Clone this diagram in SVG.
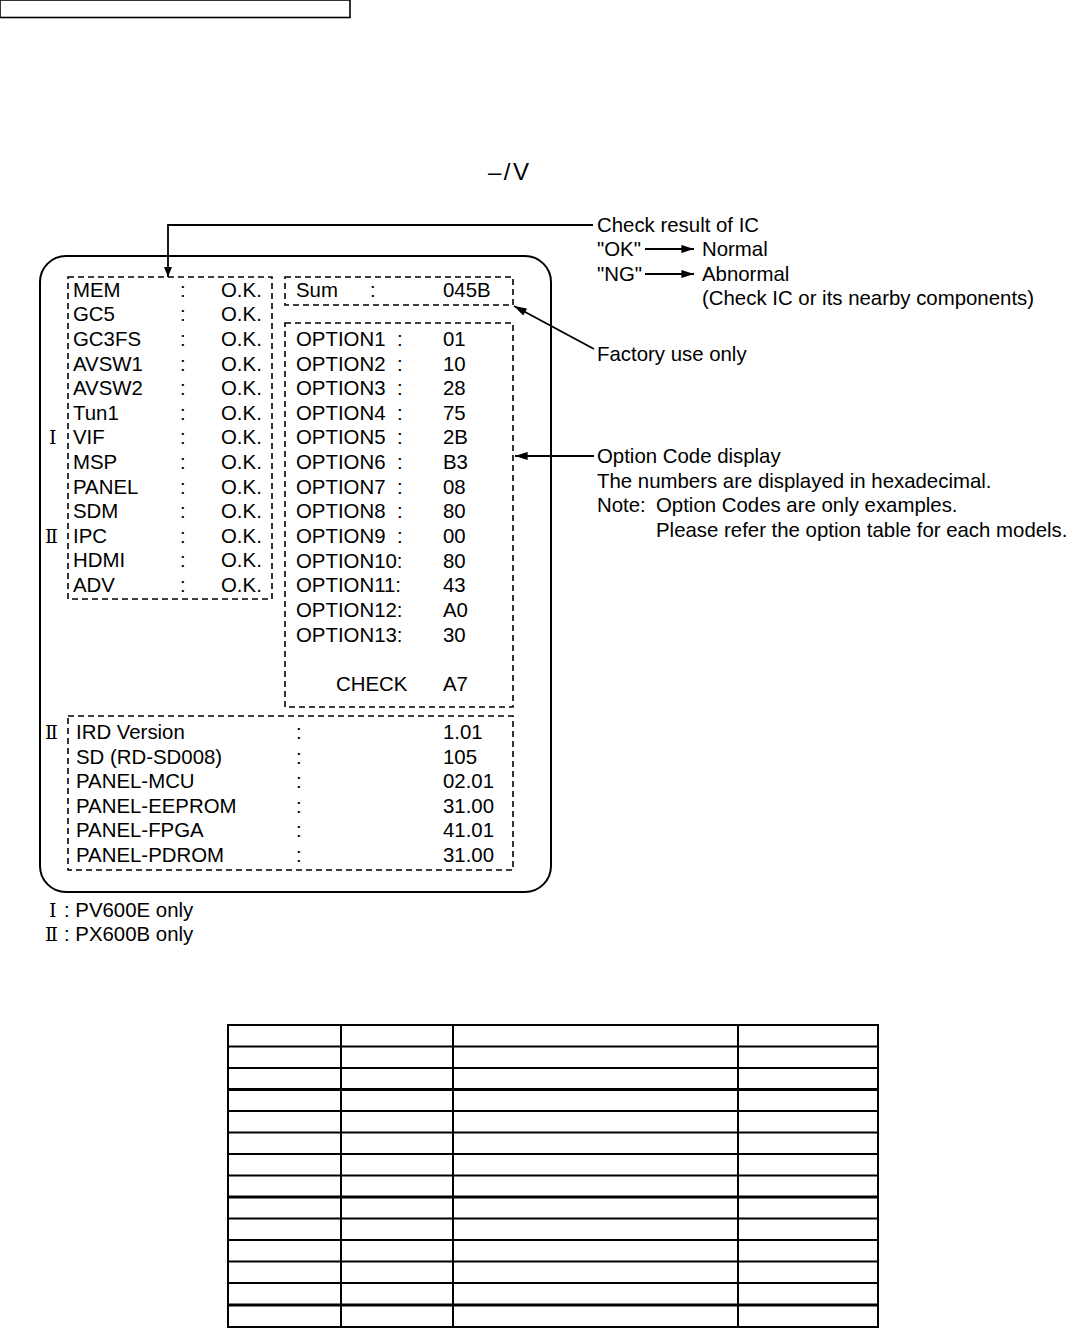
<svg xmlns="http://www.w3.org/2000/svg" width="1067" height="1328" viewBox="0 0 1067 1328">
<style>
text{font-family:"Liberation Sans",Arial,sans-serif;font-size:20.4px;fill:#000}
.rn{font-family:"DejaVu Serif","Liberation Serif","Noto Sans CJK JP",serif;font-size:19px}
.sym{font-family:"Liberation Sans",Arial,sans-serif;font-size:24px;letter-spacing:2.5px}
.dash{fill:none;stroke:#000;stroke-width:1.6;stroke-dasharray:6,4}
.ln{fill:none;stroke:#000;stroke-width:1.8}
.tb{fill:none;stroke:#000;stroke-width:2}
.tbk{fill:none;stroke:#000;stroke-width:3.2}
</style>
<defs>
<marker id="ah" viewBox="0 0 10 10" refX="10" refY="5" markerWidth="10" markerHeight="10" markerUnits="userSpaceOnUse" orient="auto">
<path d="M0,1 L10,5 L0,9 Z" fill="#000"/>
</marker>
<marker id="ahs" viewBox="0 0 14 10" refX="14" refY="5" markerWidth="14" markerHeight="9" markerUnits="userSpaceOnUse" orient="auto">
<path d="M0,0.5 L14,5 L0,9.5 Z" fill="#000"/>
</marker>
</defs>
<rect x="0" y="0" width="350" height="17.5" fill="none" stroke="#000" stroke-width="1.6"/>
<text class="sym" x="488" y="180">–/V</text>

<g id="screen">
<rect x="40" y="256" width="511" height="636" rx="26" ry="26" fill="none" stroke="#000" stroke-width="2"/>
</g>

<g id="ic-check">
<rect class="dash" x="68" y="277" width="204" height="322"/>
<g>
<text x="73" y="297">MEM</text><text x="180" y="297">:</text><text x="221" y="297">O.K.</text>
<text x="73" y="321">GC5</text><text x="180" y="321">:</text><text x="221" y="321">O.K.</text>
<text x="73" y="346">GC3FS</text><text x="180" y="346">:</text><text x="221" y="346">O.K.</text>
<text x="73" y="371">AVSW1</text><text x="180" y="371">:</text><text x="221" y="371">O.K.</text>
<text x="73" y="395">AVSW2</text><text x="180" y="395">:</text><text x="221" y="395">O.K.</text>
<text x="73" y="420">Tun1</text><text x="180" y="420">:</text><text x="221" y="420">O.K.</text>
<text x="73" y="444">VIF</text><text x="180" y="444">:</text><text x="221" y="444">O.K.</text>
<text x="73" y="469">MSP</text><text x="180" y="469">:</text><text x="221" y="469">O.K.</text>
<text x="73" y="494">PANEL</text><text x="180" y="494">:</text><text x="221" y="494">O.K.</text>
<text x="73" y="518">SDM</text><text x="180" y="518">:</text><text x="221" y="518">O.K.</text>
<text x="73" y="543">IPC</text><text x="180" y="543">:</text><text x="221" y="543">O.K.</text>
<text x="73" y="567">HDMI</text><text x="180" y="567">:</text><text x="221" y="567">O.K.</text>
<text x="73" y="592">ADV</text><text x="180" y="592">:</text><text x="221" y="592">O.K.</text>
</g>
<text class="rn" x="49" y="444">Ⅰ</text>
<text class="rn" x="45" y="543">Ⅱ</text>
</g>

<g id="sum">
<rect class="dash" x="285" y="277" width="228" height="28"/>
<text x="296" y="297">Sum</text><text x="370" y="297">:</text><text x="443" y="297">045B</text>
</g>

<g id="options">
<rect class="dash" x="285" y="323" width="228" height="384"/>
<text x="296" y="346">OPTION1</text><text x="397" y="346">:</text><text x="443" y="346">01</text>
<text x="296" y="371">OPTION2</text><text x="397" y="371">:</text><text x="443" y="371">10</text>
<text x="296" y="395">OPTION3</text><text x="397" y="395">:</text><text x="443" y="395">28</text>
<text x="296" y="420">OPTION4</text><text x="397" y="420">:</text><text x="443" y="420">75</text>
<text x="296" y="444">OPTION5</text><text x="397" y="444">:</text><text x="443" y="444">2B</text>
<text x="296" y="469">OPTION6</text><text x="397" y="469">:</text><text x="443" y="469">B3</text>
<text x="296" y="494">OPTION7</text><text x="397" y="494">:</text><text x="443" y="494">08</text>
<text x="296" y="518">OPTION8</text><text x="397" y="518">:</text><text x="443" y="518">80</text>
<text x="296" y="543">OPTION9</text><text x="397" y="543">:</text><text x="443" y="543">00</text>
<text x="296" y="568">OPTION10:</text><text x="443" y="568">80</text>
<text x="296" y="592">OPTION11:</text><text x="443" y="592">43</text>
<text x="296" y="617">OPTION12:</text><text x="443" y="617">A0</text>
<text x="296" y="642">OPTION13:</text><text x="443" y="642">30</text>
<text x="336" y="691">CHECK</text><text x="443" y="691">A7</text>
</g>

<g id="versions">
<rect class="dash" x="68" y="716" width="445" height="154"/>
<text x="76" y="739">IRD Version</text><text x="296" y="739">:</text><text x="443" y="739">1.01</text>
<text x="76" y="764">SD (RD-SD008)</text><text x="296" y="764">:</text><text x="443" y="764">105</text>
<text x="76" y="788">PANEL-MCU</text><text x="296" y="788">:</text><text x="443" y="788">02.01</text>
<text x="76" y="813">PANEL-EEPROM</text><text x="296" y="813">:</text><text x="443" y="813">31.00</text>
<text x="76" y="837">PANEL-FPGA</text><text x="296" y="837">:</text><text x="443" y="837">41.01</text>
<text x="76" y="862">PANEL-PDROM</text><text x="296" y="862">:</text><text x="443" y="862">31.00</text>
<text class="rn" x="45" y="739">Ⅱ</text>
</g>

<g id="legend">
<text class="rn" x="49" y="917">Ⅰ</text><text x="64" y="917">: PV600E only</text>
<text class="rn" x="45" y="941">Ⅱ</text><text x="64" y="941">: PX600B only</text>
</g>

<g id="notes">
<text x="597" y="232">Check result of IC</text>
<text x="597" y="256">"OK"</text><text x="702" y="256">Normal</text>
<text x="597" y="281">"NG"</text><text x="702" y="281">Abnormal</text>
<text x="702" y="305">(Check IC or its nearby components)</text>
<text x="597" y="361">Factory use only</text>
<text x="597" y="463">Option Code display</text>
<text x="597" y="488">The numbers are displayed in hexadecimal.</text>
<text x="597" y="512">Note:</text><text x="656" y="512">Option Codes are only examples.</text>
<text x="656" y="537">Please refer the option table for each models.</text>
</g>

<g id="connectors">
<path class="ln" d="M593,225 H168 V277" marker-end="url(#ah)"/>
<path class="ln" d="M645,249 H694" marker-end="url(#ahs)"/>
<path class="ln" d="M645,274 H694" marker-end="url(#ahs)"/>
<path class="ln" d="M594,349 L514,306" marker-end="url(#ahs)"/>
<path class="ln" d="M594,456 H515" marker-end="url(#ahs)"/>
</g>

<g id="table">
<rect class="tb" x="228" y="1025" width="650" height="302"/>
<path class="tb" d="M341,1025 V1327 M453,1025 V1327 M738,1025 V1327"/>
<path class="tb" d="M228,1046.5 H878 M228,1068 H878 M228,1111 H878 M228,1132.5 H878 M228,1154 H878 M228,1175.5 H878 M228,1218.5 H878 M228,1240 H878 M228,1261.5 H878 M228,1283 H878"/>
<path class="tbk" d="M228,1089.5 H878 M228,1197 H878 M228,1305 H878"/>
</g>
</svg>
